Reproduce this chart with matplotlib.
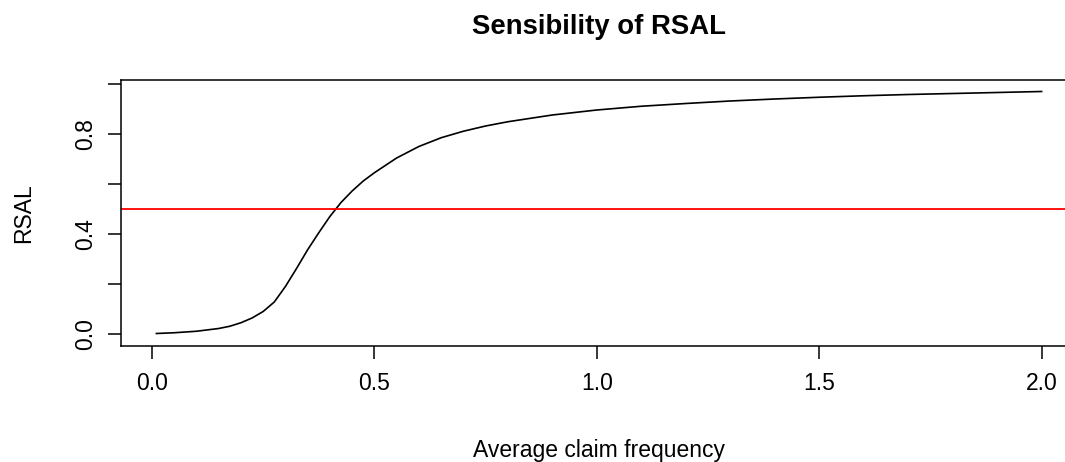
import matplotlib
matplotlib.use("Agg")
import matplotlib.pyplot as plt

# Sensitivity of RSAL to the average claim frequency
freq = [0.01, 0.05, 0.10, 0.15, 0.175, 0.20, 0.225, 0.25, 0.275, 0.30,
        0.325, 0.35, 0.375, 0.40, 0.425, 0.45, 0.475, 0.50, 0.55, 0.60,
        0.65, 0.70, 0.75, 0.80, 0.90, 1.00, 1.10, 1.20, 1.30, 1.40,
        1.50, 1.60, 1.70, 1.80, 1.90, 2.00]
rsal = [0.002, 0.005, 0.011, 0.022, 0.031, 0.045, 0.064, 0.090, 0.128, 0.190,
        0.262, 0.337, 0.405, 0.470, 0.526, 0.572, 0.612, 0.645, 0.704, 0.750,
        0.785, 0.811, 0.832, 0.849, 0.876, 0.896, 0.911, 0.922, 0.932, 0.940,
        0.947, 0.953, 0.958, 0.962, 0.966, 0.970]
threshold = 0.5

x_ticks = [0.0, 0.5, 1.0, 1.5, 2.0]
x_labels = ["0.0", "0.5", "1.0", "1.5", "2.0"]
y_ticks = [0.0, 0.2, 0.4, 0.6, 0.8, 1.0]
y_labels = ["0.0", "", "0.4", "", "0.8", ""]

plt.rcParams["font.family"] = ["Liberation Sans", "DejaVu Sans"]

W, H = 1065, 462
fig = plt.figure(figsize=(W / 100, H / 100), dpi=100)
left, right, top, bottom = 121, 1077, 80, 346
ax = fig.add_axes([left / W, 1 - bottom / H, (right - left) / W, (bottom - top) / H])

ax.plot(freq, rsal, color="black", lw=1.2)
ax.axhline(threshold, color="#ff0000", lw=1.3)

ax.set_xlim(-0.0696, 2.0796)
ax.set_ylim(-0.048, 1.016)

ax.set_xticks(x_ticks)
ax.set_xticklabels(x_labels)
ax.set_yticks(y_ticks)
ax.set_yticklabels(y_labels, rotation=90, va="center")

fs = 16.5
ax.tick_params(axis="both", direction="out", length=9.5, width=1.1,
               labelsize=fs, colors="black")
ax.tick_params(axis="x", pad=9)
ax.tick_params(axis="y", pad=8)
for s in ax.spines.values():
    s.set_linewidth(1.1)

ax.set_xlabel("Average claim frequency", fontsize=fs, labelpad=32)
ax.set_ylabel("RSAL", fontsize=fs, labelpad=28)
ax.set_title("Sensibility of RSAL", fontsize=fs * 1.2, fontweight="bold", pad=33)

fig.savefig("out.png", dpi=100)
